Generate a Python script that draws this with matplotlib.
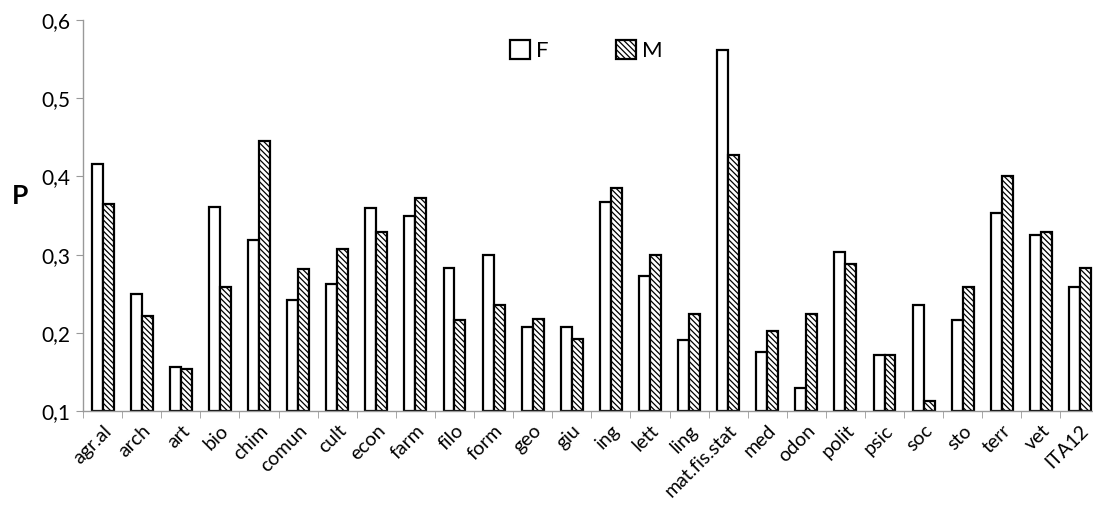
import matplotlib
import matplotlib.pyplot as plt
import numpy as np
from matplotlib.ticker import FuncFormatter

matplotlib.rcParams['font.family'] = ['Lato', 'DejaVu Sans']
matplotlib.rcParams['hatch.linewidth'] = 0.9
matplotlib.rcParams['hatch.color'] = '#444444'

categories = ['agr.al', 'arch', 'art', 'bio', 'chim', 'comun', 'cult', 'econ', 'farm',
              'filo', 'form', 'geo', 'giu', 'ing', 'lett', 'ling', 'mat.fis.stat', 'med',
              'odon', 'polit', 'psic', 'soc', 'sto', 'terr', 'vet', 'ITA12']
values_f = [0.416, 0.250, 0.156, 0.361, 0.319, 0.242, 0.262, 0.359, 0.349,
            0.283, 0.300, 0.207, 0.208, 0.367, 0.273, 0.191, 0.562, 0.175,
            0.130, 0.303, 0.172, 0.235, 0.217, 0.353, 0.325, 0.258]
values_m = [0.365, 0.222, 0.154, 0.258, 0.445, 0.281, 0.307, 0.329, 0.373,
            0.216, 0.235, 0.218, 0.192, 0.385, 0.299, 0.224, 0.427, 0.202,
            0.224, 0.288, 0.172, 0.113, 0.258, 0.400, 0.329, 0.283]
y_ticks = [0.1, 0.2, 0.3, 0.4, 0.5, 0.6]

fig = plt.figure(figsize=(10.93, 5.15), dpi=100)
ax = fig.add_axes([0.076, 0.202, 0.930, 0.759])

x = np.arange(len(categories))
w = 0.28
base = 0.1
ax.bar(x - w/2, np.array(values_f) - base, w, bottom=base, color='white',
       edgecolor='black', linewidth=1.6, label='F')
ax.bar(x + w/2, np.array(values_m) - base, w, bottom=base, color='white',
       edgecolor='black', linewidth=1.6, hatch='\\\\\\\\\\\\', label='M')

ax.set_xlim(-0.5, len(categories) - 0.5)
ax.set_ylim(0.1, 0.6)
ax.set_yticks(y_ticks)
ax.yaxis.set_major_formatter(FuncFormatter(lambda v, p: f'{v:.1f}'.replace('.', ',')))

ax.set_xticks(x)
ax.set_xticklabels(categories, rotation=45, ha='right', rotation_mode='anchor', fontsize=14)
ax.set_xticks(np.arange(-0.5, len(categories), 1.0), minor=True)
ax.tick_params(axis='x', which='major', length=0, pad=8)
ax.tick_params(axis='x', which='minor', length=5, color='#999999', direction='out')
ax.tick_params(axis='y', length=5, color='#999999', labelsize=15, pad=4)

for s in ['top', 'right']:
    ax.spines[s].set_visible(False)
for s in ['left', 'bottom']:
    ax.spines[s].set_color('#999999')
    ax.spines[s].set_linewidth(1.0)

ax.set_ylabel('P', fontsize=19, fontweight='bold', rotation=0)
ax.yaxis.set_label_coords(-0.062, 0.52)

ax.legend(loc='upper center', bbox_to_anchor=(0.495, 1.0), ncol=2, frameon=False,
          fontsize=16, handlelength=0.9, handleheight=0.9, handletextpad=0.3,
          columnspacing=3.0)

fig.savefig('out.png', dpi=100)
